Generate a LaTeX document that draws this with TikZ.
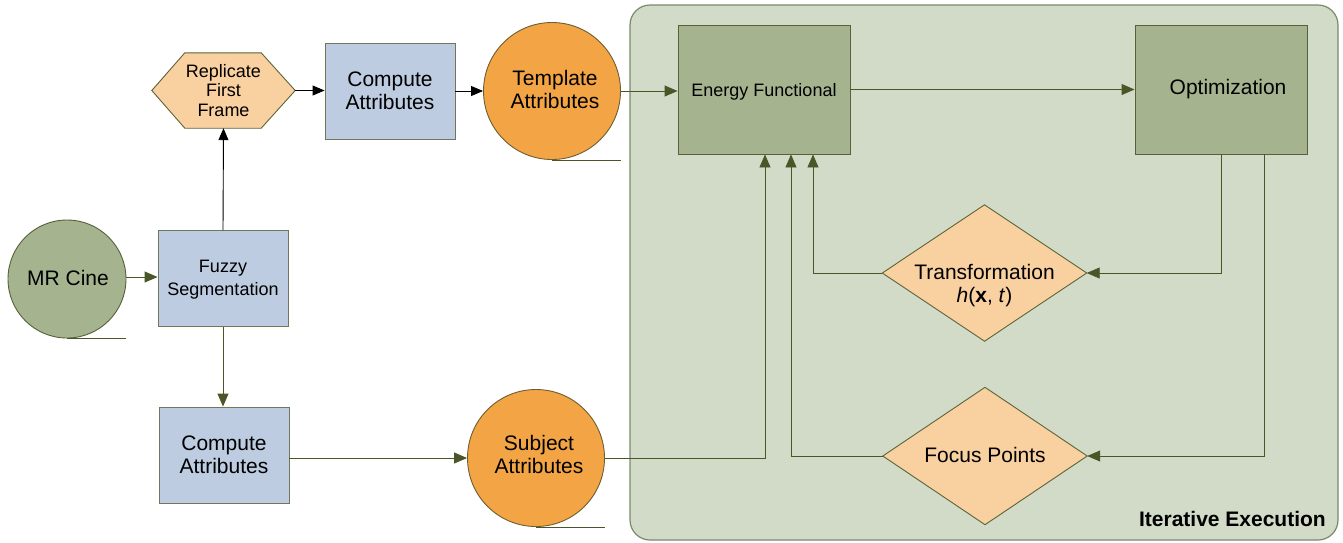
\documentclass[tikz,border=0pt]{standalone}
\usepackage{fontspec}
\setmainfont{Liberation Sans}
\usetikzlibrary{arrows.meta}
\definecolor{contfill}{HTML}{D1DBC7}
\definecolor{contdraw}{HTML}{7D876A}
\definecolor{greenfill}{HTML}{A5B38F}
\definecolor{greendraw}{HTML}{56613A}
\definecolor{bluefill}{HTML}{BDCCE0}
\definecolor{bluedraw}{HTML}{6F785A}
\definecolor{orangefill}{HTML}{F3A546}
\definecolor{orangedraw}{HTML}{6E5E30}
\definecolor{peachfill}{HTML}{F9D0A0}
\definecolor{peachdraw}{HTML}{5C6438}
\definecolor{olive}{HTML}{4A5628}
\tikzset{
  fbig/.style={font=\fontsize{21}{23}\selectfont},
  fsmall/.style={font=\fontsize{18}{19.5}\selectfont},
  bluebox/.style={draw=bluedraw, fill=bluefill, line width=0.9pt, minimum width=130, minimum height=96, align=center, inner sep=0pt},
  greenbox/.style={draw=greendraw, fill=greenfill, line width=0.9pt, minimum width=172, minimum height=129, align=center, inner sep=0pt},
  datacirc/.style={circle, line width=0.9pt, inner sep=0pt},
  ghost/.style={draw=none, inner sep=0pt},
  peachshape/.style={draw=peachdraw, fill=peachfill, line width=0.9pt},
  tailline/.style={draw=olive, line width=0.9pt},
  oarrow/.style={draw=olive, line width=0.9pt, -{Triangle[length=13pt,width=11pt]}},
  karrow/.style={draw=black, line width=0.9pt, -{Triangle[length=12pt,width=10pt]}},
  ctext/.style={align=center, inner sep=0pt},
}
\begin{document}
\begin{tikzpicture}[x=1pt, y=-1pt]
\useasboundingbox (0,0) rectangle (1343,542);
% container
\draw[draw=contdraw, fill=contfill, line width=1.2pt, rounded corners=20pt] (630,5) rectangle (1338,540);
\node[font=\fontsize{21}{23}\selectfont\bfseries, anchor=east, inner sep=0pt] (iter) at (1326,519) {Iterative Execution};

% MR Cine
\node[datacirc, draw=greendraw, fill=greenfill, minimum size=118] (mr) at (67,279) {};
\node[ctext, fbig] (mrtxt) at ([shift={(1,-1.5)}]mr.center) {MR Cine};
\draw[tailline] (mr.south) -- (mr.east |- mr.south);

% Fuzzy segmentation
\node[bluebox] (fz) at (223,278.5) {};
\node[ctext, font=\fontsize{18}{22.5}\selectfont] (fztxt) at ([yshift=-1]fz.center) {Fuzzy\\Segmentation};

% Hexagon
\node[ghost, minimum width=143, minimum height=75] (hex) at (223.5,90.5) {};
\path[peachshape] (hex.west) -- ([xshift=33]hex.north west) -- ([xshift=-34]hex.north east) -- (hex.east) -- ([xshift=-34]hex.south east) -- ([xshift=33]hex.south west) -- cycle;
\node[ctext, fsmall] (hextxt) at (hex) {Replicate\\First\\Frame};

% Compute top
\node[bluebox, fbig] (ct) at (390,91) {Compute\\Attributes};
% Template attributes
\node[datacirc, draw=orangedraw, fill=orangefill, minimum size=137] (ta) at (552,91) {};
\node[ctext, fbig] (tatxt) at ([shift={(3,-2)}]ta.center) {Template\\Attributes};
\draw[tailline] (ta.south) -- (ta.east |- ta.south);

% Compute bottom
\node[bluebox, fbig] (cb) at (224,455) {Compute\\Attributes};
% Subject attributes
\node[datacirc, draw=orangedraw, fill=orangefill, minimum size=137] (sa) at (536,458) {};
\node[ctext, fbig] (satxt) at ([shift={(3,-4)}]sa.center) {Subject\\Attributes};
\draw[tailline] (sa.south) -- (sa.east |- sa.south);

% Energy & Optimization
\node[greenbox] (ef) at (764,89.5) {};
\node[ctext, fsmall] (eftxt) at ([yshift=-2]ef.center) {Energy Functional};
\node[greenbox, fbig] (op) at (1221,89.5) {\hspace*{14pt}Optimization};

% Transformation diamond
\node[ghost, minimum width=204, minimum height=136] (tr) at (984.5,273) {};
\path[peachshape] (tr.west) -- (tr.north) -- (tr.east) -- (tr.south) -- cycle;
\node[ctext, fbig] (trtxt) at ([yshift=-13]tr.center) {Transformation\\\textit{h}(\textbf{x}, \textit{t})};

% Focus points diamond
\node[ghost, minimum width=204, minimum height=137] (fp) at (985,456) {};
\path[peachshape] (fp.west) -- (fp.north) -- (fp.east) -- (fp.south) -- cycle;
\node[ctext, fbig] (fptxt) at ([yshift=1]fp.center) {Focus Points};

% connectors
\draw[oarrow] (mr.east |- 0,277) -- (fz.west |- 0,277);
\draw[karrow] (fz.north) -- (hex.south);
\draw[oarrow] (fz.south) -- (cb.north -| fz.south);
\draw[karrow] (hex.east) -- (ct.west |- hex.east);
\draw[karrow] (ct.east) -- (ta.west);
\draw[oarrow] (ta.east) -- (ef.west |- ta.east);
\draw[oarrow] (ef.east) -- (op.west);
\draw[oarrow] (cb.east |- sa.west) -- (sa.west);
\draw[oarrow] (sa.east) -| ([xshift=1]ef.south);
\draw[oarrow] (fp.west) -| ([xshift=27]ef.south);
\draw[oarrow] (tr.west) -| ([xshift=49]ef.south);
\draw[oarrow] (op.south) |- (tr.east);
\draw[oarrow] ([xshift=43]op.south) |- (fp.east);
\end{tikzpicture}
\end{document}
